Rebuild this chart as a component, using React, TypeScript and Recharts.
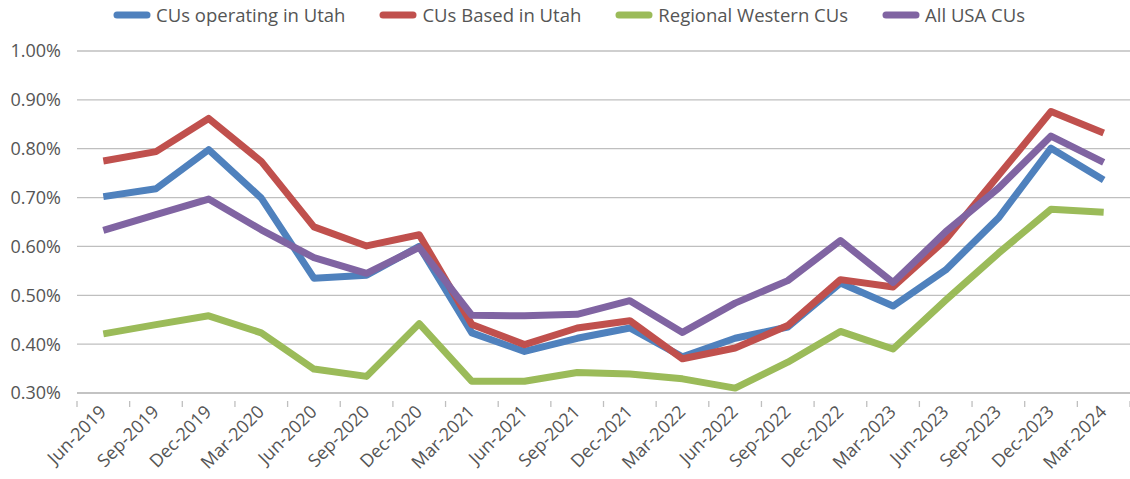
import React from 'react';
import { LineChart, Line, XAxis, YAxis, CartesianGrid, Legend } from 'recharts';

const quarters = [
  'Jun-2019', 'Sep-2019', 'Dec-2019', 'Mar-2020', 'Jun-2020', 'Sep-2020', 'Dec-2020',
  'Mar-2021', 'Jun-2021', 'Sep-2021', 'Dec-2021', 'Mar-2022', 'Jun-2022', 'Sep-2022',
  'Dec-2022', 'Mar-2023', 'Jun-2023', 'Sep-2023', 'Dec-2023', 'Mar-2024',
];

const operatingUtah = [
  0.702, 0.718, 0.798, 0.699, 0.535, 0.541, 0.600, 0.423, 0.385, 0.412,
  0.433, 0.374, 0.412, 0.435, 0.525, 0.478, 0.552, 0.658, 0.801, 0.736,
];
const basedUtah = [
  0.775, 0.794, 0.862, 0.774, 0.640, 0.601, 0.624, 0.440, 0.399, 0.433,
  0.448, 0.370, 0.392, 0.438, 0.532, 0.517, 0.614, 0.745, 0.876, 0.832,
];
const regionalWestern = [
  0.421, 0.440, 0.458, 0.423, 0.349, 0.334, 0.442, 0.324, 0.324, 0.342,
  0.339, 0.329, 0.310, 0.363, 0.426, 0.390, 0.490, 0.586, 0.676, 0.670,
];
const allUsa = [
  0.633, 0.665, 0.697, 0.634, 0.577, 0.545, 0.598, 0.459, 0.458, 0.461,
  0.489, 0.424, 0.484, 0.530, 0.612, 0.526, 0.630, 0.719, 0.826, 0.772,
];

const yTicks = [0.3, 0.4, 0.5, 0.6, 0.7, 0.8, 0.9, 1.0];

const series = [
  { key: 'operating', name: 'CUs operating in Utah', color: '#4F81BD' },
  { key: 'based', name: 'CUs Based in Utah', color: '#C0504D' },
  { key: 'regional', name: 'Regional Western CUs', color: '#9BBB59' },
  { key: 'usa', name: 'All USA CUs', color: '#8064A2' },
];

const data = quarters.map((q, i) => ({
  pos: i + 0.5,
  quarter: q,
  operating: operatingUtah[i],
  based: basedUtah[i],
  regional: regionalWestern[i],
  usa: allUsa[i],
}));

// integer positions = category boundaries (tick marks), halves = labels
const xTicks: number[] = [];
for (let i = 0; i <= quarters.length * 2; i++) xTicks.push(i / 2);

const FONT = '"Open Sans", sans-serif';
const TEXT = '#555555';

const XTick = (props: any) => {
  const { x, y, payload } = props;
  const v = payload.value;
  if (Number.isInteger(v)) {
    return <line x1={x} x2={x} y1={y} y2={y + 6} stroke="#BFBFBF" strokeWidth={1.3} />;
  }
  const label = quarters[Math.floor(v)];
  return (
    <text
      x={x + 4}
      y={y + 12}
      transform={`rotate(-45, ${x + 4}, ${y + 12})`}
      textAnchor="end"
      fill={TEXT}
      fontSize={18}
      fontFamily={FONT}
    >
      {label}
    </text>
  );
};

const LegendContent = () => (
  <div style={{ display: 'flex', justifyContent: 'center', fontFamily: FONT, fontSize: 18.5, color: TEXT }}>
    {series.map((s) => (
      <div key={s.key} style={{ display: 'flex', alignItems: 'center', margin: '0 17px' }}>
        <svg width={38} height={10} style={{ marginRight: 5 }}>
          <line x1={4} x2={34} y1={5} y2={5} stroke={s.color} strokeWidth={7} strokeLinecap="round" />
        </svg>
        <span>{s.name}</span>
      </div>
    ))}
  </div>
);

export default function App() {
  return (
    <div style={{ position: 'absolute', left: 0, top: 0, background: '#fff' }}>
      <LineChart width={1130} height={479} data={data} margin={{ top: 19, right: 0, bottom: 6, left: 8 }}>
        <Legend verticalAlign="top" height={32} content={<LegendContent />} wrapperStyle={{ top: 2 }} />
        <CartesianGrid vertical={false} stroke="#BFBFBF" strokeWidth={1.3} />
        <XAxis
          xAxisId="x"
          type="number"
          dataKey="pos"
          domain={[0, quarters.length]}
          ticks={xTicks}
          interval={0}
          tick={<XTick />}
          tickLine={false}
          axisLine={{ stroke: '#BFBFBF', strokeWidth: 1.3 }}
          height={80}
        />
        <YAxis
          domain={[0.3, 1.0]}
          ticks={yTicks}
          tickFormatter={(v: number) => v.toFixed(2) + '%'}
          axisLine={false}
          tickLine={false}
          width={69}
          tick={{ fill: TEXT, fontSize: 18, fontFamily: FONT }}
          tickMargin={10}
        />
        {series.map((s) => (
          <Line
            key={s.key}
            xAxisId="x"
            type="linear"
            dataKey={s.key}
            name={s.name}
            stroke={s.color}
            strokeWidth={7}
            strokeLinejoin="round"
            dot={false}
            activeDot={false}
            isAnimationActive={false}
          />
        ))}
      </LineChart>
    </div>
  );
}
